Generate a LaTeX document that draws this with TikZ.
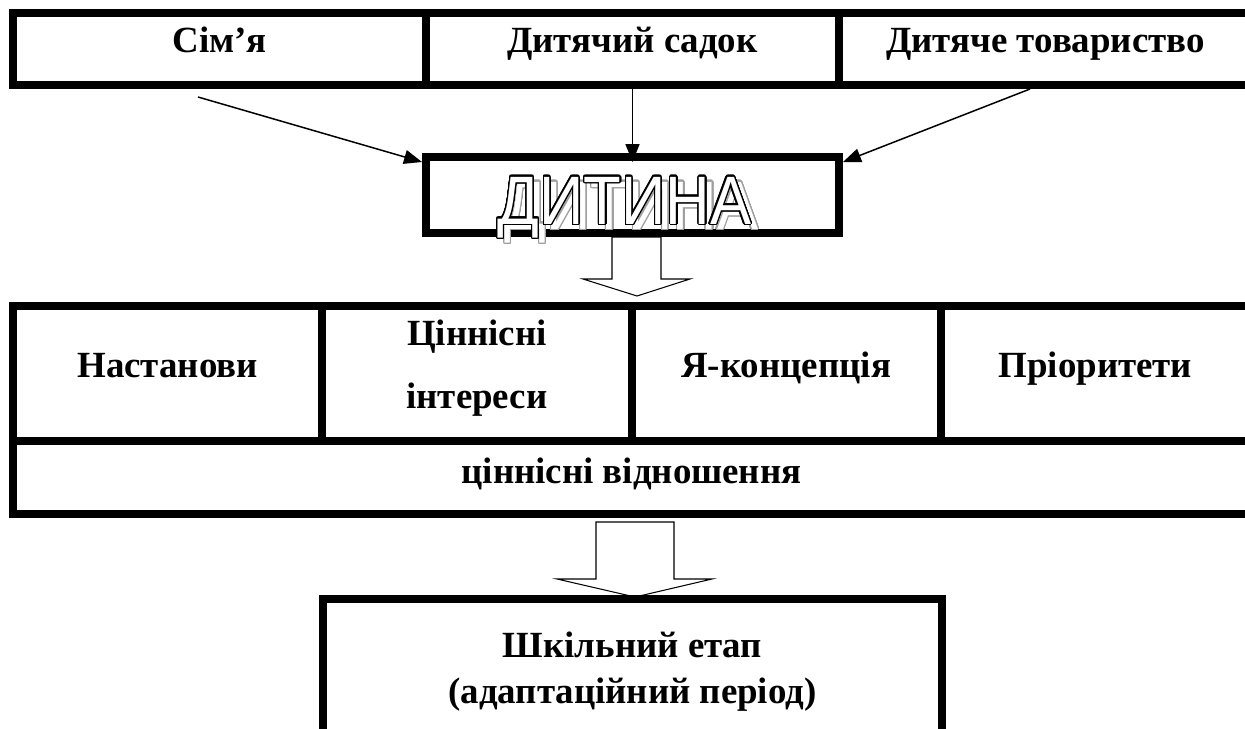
\documentclass[tikz,border=0pt]{standalone}
\usepackage{fontspec}
\setmainfont{Liberation Serif}
\newfontfamily\dytfont[FakeStretch=0.9]{Liberation Sans}
\usepackage{contour}
\contourlength{0.75pt}
\contournumber{32}
\usetikzlibrary{arrows.meta,calc}

\tikzset{
  cell/.style={draw, line width=0.16cm, inner sep=0pt, outer sep=0pt},
  lbl/.style={font=\fontsize{21}{25}\selectfont\bfseries, inner sep=0pt, anchor=base},
  dyttxt/.style={font=\dytfont\fontsize{39}{42}\selectfont, inner sep=0pt, anchor=base, text=white},
  thinarr/.style={line width=0.85pt, -{Triangle[length=3.6mm,width=2.8mm]}},
  hollow/.style={draw, line width=0.6pt, fill=white, line join=miter}
}

\begin{document}
\begin{tikzpicture}[x=0.02cm,y=-0.02cm]
\useasboundingbox (0,0) rectangle (1245,728);
% top row
\node[cell, minimum width=8.26cm, minimum height=1.44cm] (sim) at (219.5,49) {};
\node[cell, minimum width=8.26cm, minimum height=1.44cm] (sad) at (632.5,49) {};
\node[cell, minimum width=8.26cm, minimum height=1.44cm] (tov) at (1045.5,49) {};
\node[lbl] (tsim) at ($(sim)+(0,3)$) {Сім’я};
\node[lbl] (tsad) at ($(sad)+(0,3)$) {Дитячий садок};
\node[lbl] (ttov) at ($(tov)+(0,3)$) {Дитяче товариство};
% child
\node[cell, minimum width=8.26cm, minimum height=1.52cm] (dyt) at (632.5,195) {};
\node[dyttxt] (tdytsh) at ($(dyt)+(-1,34)$) {\contour{gray!75}{ДИТИНА}};
\node[dyttxt] (tdyt) at ($(dyt)+(-8,29)$) {\contour{black}{ДИТИНА}};
\draw[thinarr] ($(sim.south)+(-21.5,12)$) -- ($(dyt.north west)+(-4,5)$);
\draw[thinarr] ($(sad.south)+(0,4)$) -- ($(dyt.north)+(0,5)$);
\draw[thinarr] ($(tov.south)+(-15.5,4)$) -- ($(dyt.north east)+(4,5)$);
\draw[hollow] ($(dyt.south)+(-20.5,4)$) -- ++(0,42) -- ++(-29,0) -- ++(54,17) -- ++(53,-17) -- ++(-29,0) -- ++(0,-42) -- cycle;
% values block
\node[cell, minimum width=6.185cm, minimum height=2.7cm] (nast) at (167.6,373.5) {};
\node[cell, minimum width=6.185cm, minimum height=2.7cm] (cin) at (476.9,373.5) {};
\node[cell, minimum width=6.185cm, minimum height=2.7cm] (konc) at (786.1,373.5) {};
\node[cell, minimum width=6.185cm, minimum height=2.7cm] (prio) at (1095.4,373.5) {};
\node[cell, minimum width=24.74cm, minimum height=1.46cm] (vid) at (631.5,477.5) {};
\node[lbl] (tnast) at ($(nast)+(0,3.5)$) {Настанови};
\node[lbl] (tcin) at ($(cin)+(0,-28.5)$) {Ціннісні};
\node[lbl] (tint) at ($(cin)+(0,34.5)$) {інтереси};
\node[lbl] (tkonc) at ($(konc)+(0,3.5)$) {Я-концепція};
\node[lbl] (tprio) at ($(prio)+(0,3.5)$) {Пріоритети};
\node[lbl] (tvid) at ($(vid)+(0,5.5)$) {ціннісні відношення};
% school
\coordinate (schtop) at (632.5,599);
\draw[hollow] ($(schtop)+(-36.5,-77)$) -- ++(0,57) -- ++(-39,0) -- ++(78,18) -- ++(77,-18) -- ++(-38,0) -- ++(0,-57) -- cycle;
\node[cell, minimum width=12.38cm, minimum height=2.84cm, anchor=north] (sch) at (schtop) {};
\node[lbl] (tsch) at ($(sch.north)+(0,58)$) {Шкільний етап};
\node[lbl] (tper) at ($(sch.north)+(0,104)$) {(адаптаційний період)};
\end{tikzpicture}
\end{document}
